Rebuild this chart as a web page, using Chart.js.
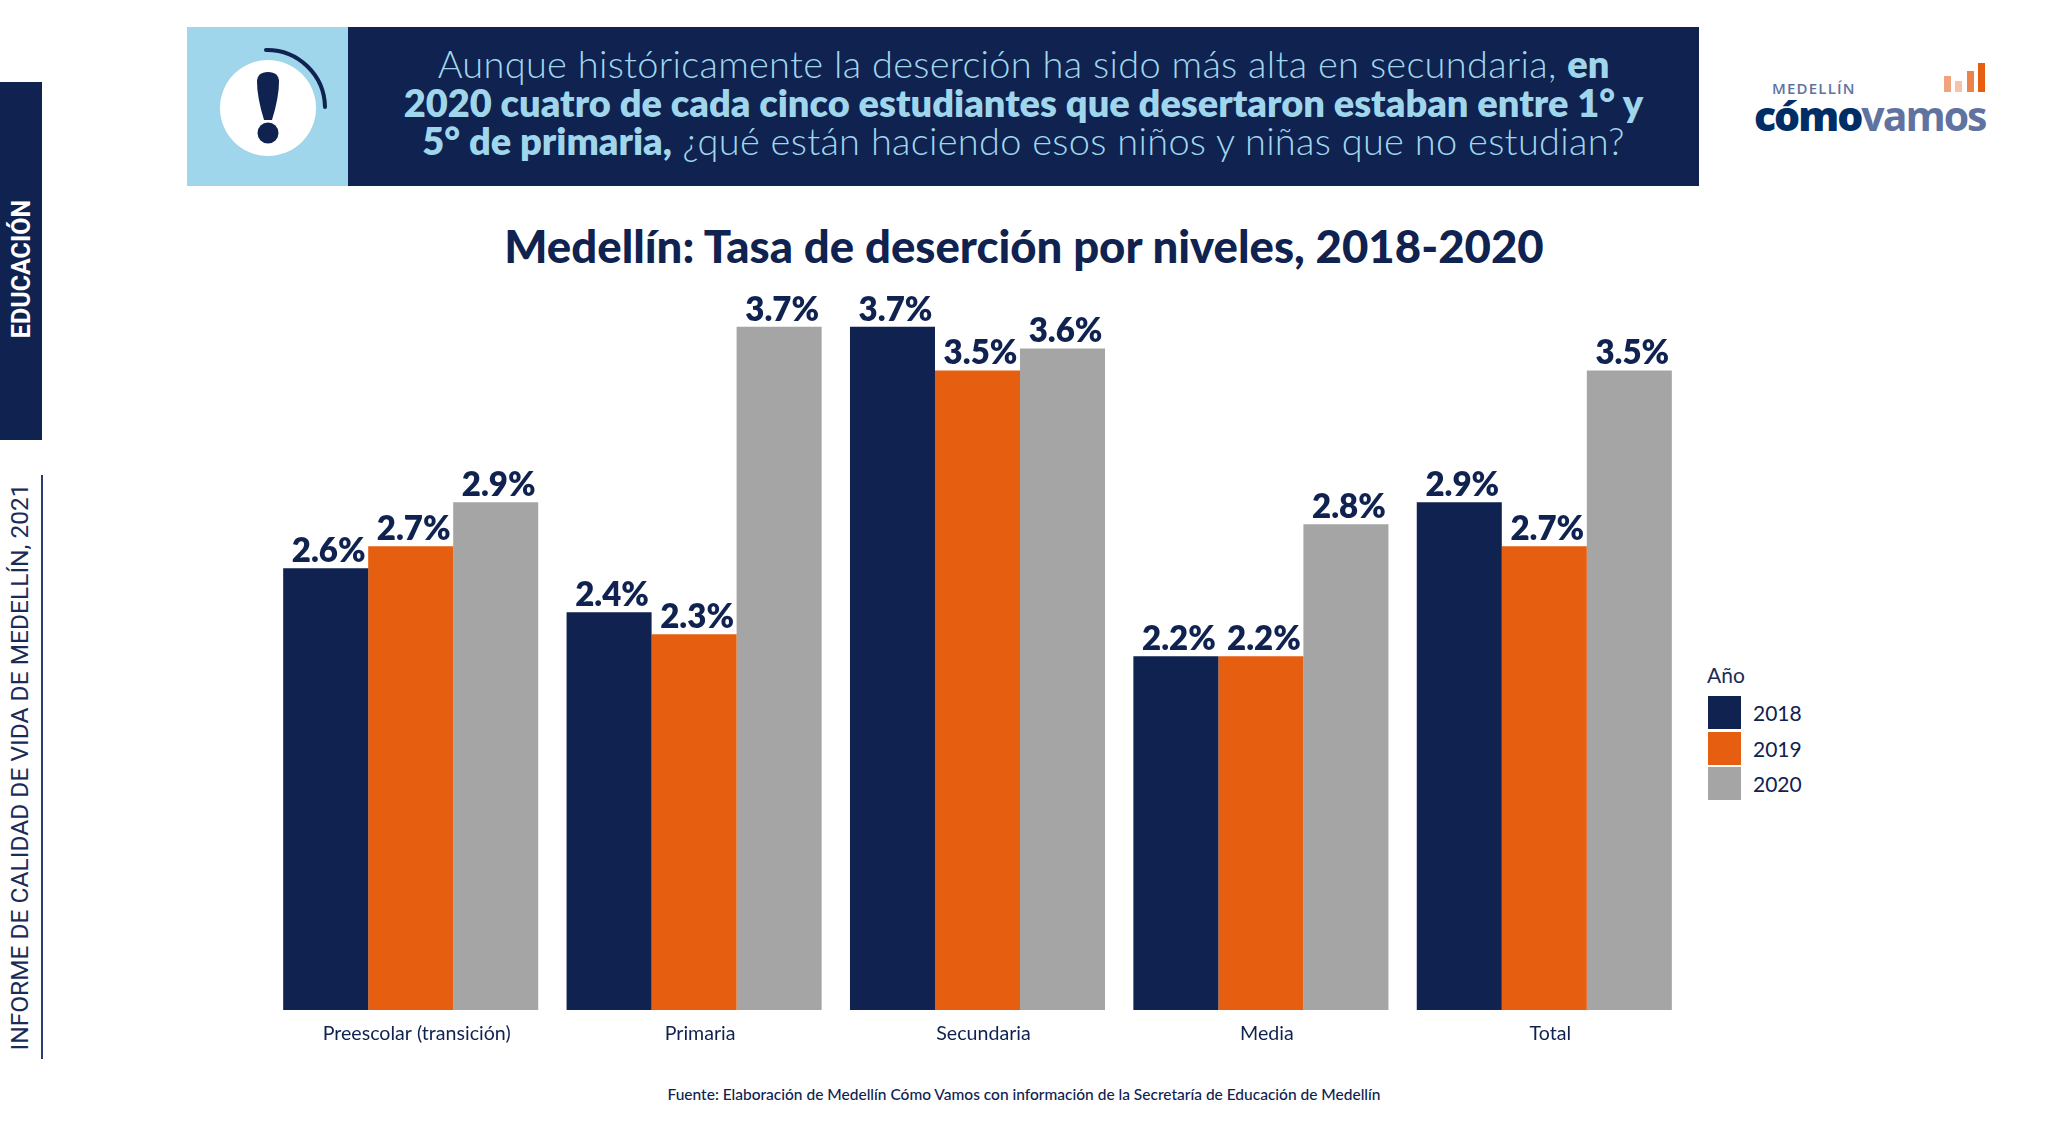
<!DOCTYPE html>
<html lang="es">
<head>
<meta charset="UTF-8">
<title>Medellín: Tasa de deserción por niveles, 2018-2020</title>
<script src="https://cdn.jsdelivr.net/npm/chart.js"></script>
<style>
  html, body { margin: 0; padding: 0; background: #fff; }
  body { width: 2048px; height: 1143px; position: relative; overflow: hidden; font-family: Lato, sans-serif; color: #0f2250; }
  .abs { position: absolute; }
  #chartBox { left: 269px; top: 280px; width: 1417px; height: 780px; }
  #sideBar { left: 0; top: 82px; width: 42px; height: 358px; background: #0f2250; }
  #sideLine { left: 41px; top: 475px; width: 2px; height: 584px; background: #2b3c6e; }
  .rot { transform: rotate(-90deg); transform-origin: center; white-space: nowrap; text-align: center; }
  #sideTitle { left: -78px; top: 254px; width: 200px; height: 30px; line-height: 30px; color: #fff; font-family: Roboto; font-weight: 700; font-size: 25px; }
  #sideReport { left: -280px; top: 752px; width: 600px; height: 30px; line-height: 30px; font-family: Roboto; font-size: 24.5px; color: #1b2b58; }
  #iconBox { left: 187px; top: 27px; width: 161px; height: 159px; background: #a0d6ec; }
  #banner { left: 348px; top: 27px; width: 1351px; height: 159px; background: #0f2250; color: #a0d6ec; font-size: 38px; font-weight: 300; line-height: 38.5px; letter-spacing: 0.28px; text-align: center; box-sizing: border-box; padding-top: 17px; }
  #banner b { font-weight: 800; letter-spacing: 0; }
  #title { left: 0; width: 2048px; top: 218px; text-align: center; font-size: 45.5px; font-weight: 900; line-height: 56px; }
  #legend { left: 1707px; top: 662px; font-size: 21px; }
  #legend .head { height: 26px; line-height: 26px; margin-bottom: 7px; color: #1b2b58; }
  #legend .row { height: 35.4px; display: flex; align-items: center; }
  #legend .swatch { width: 33px; height: 33px; margin-right: 12px; margin-left: 1px; }
  #source { left: 0; width: 2048px; top: 1085px; text-align: center; font-size: 15.5px; line-height: 18px; font-weight: 500; }
  #logoTop { left: 1772px; top: 78px; font-size: 15px; letter-spacing: 1.2px; color: #5f72a0; font-family: "Open Sans"; font-weight: 600; }
  #logoWord { left: 1754px; top: 88px; font-family: "Open Sans"; font-size: 41px; line-height: 54px; font-weight: 800; letter-spacing: -2px; color: #002d66; white-space: nowrap; }
  #logoWord span { color: #5f72a0; font-weight: 700; }
</style>
</head>
<body>
<div class="abs" id="sideBar"></div>
<div class="abs rot" id="sideTitle">EDUCACIÓN</div>
<div class="abs" id="sideLine"></div>
<div class="abs rot" id="sideReport">INFORME DE CALIDAD DE VIDA DE MEDELLÍN, 2021</div>

<div class="abs" id="iconBox">
  <svg width="161" height="159">
    <circle cx="81" cy="81" r="48" fill="#fff"/>
    <path d="M79 23 A58 58 0 0 1 138 80" fill="none" stroke="#0f2250" stroke-width="4" stroke-linecap="round"/>
    <path d="M70 55 Q70 45 81 45 Q92 45 92 55 Q92 70 85 93 L77 93 Q70 70 70 55 Z" fill="#0f2250"/>
    <circle cx="81" cy="106" r="10.5" fill="#0f2250"/>
  </svg>
</div>
<div class="abs" id="banner">Aunque históricamente la deserción ha sido más alta en secundaria, <b>en<br>2020 cuatro de cada cinco estudiantes que desertaron estaban entre 1° y<br>5° de primaria,</b> ¿qué están haciendo esos niños y niñas que no estudian?</div>

<div class="abs" id="logoTop">MEDELLÍN</div>
<div class="abs" id="logoWord">cómo<span>vamos</span></div>
<svg class="abs" style="left:1940px;top:60px" width="50" height="36">
  <rect x="4" y="16" width="7" height="16" fill="#f0a47c"/>
  <rect x="15" y="21" width="7" height="11" fill="#f6c3a6"/>
  <rect x="27" y="11" width="7" height="21" fill="#ea844a"/>
  <rect x="38" y="3" width="7" height="29" fill="#e65f10"/>
</svg>

<div class="abs" id="title">Medellín: Tasa de deserción por niveles, 2018-2020</div>

<div class="abs" id="chartBox"><canvas id="barChart"></canvas></div>
<div class="abs" id="legend"></div>
<div class="abs" id="source">Fuente: Elaboración de Medellín Cómo Vamos con información de la Secretaría de Educación de Medellín</div>

<script>
const categories = ['Preescolar (transición)', 'Primaria', 'Secundaria', 'Media', 'Total'];
const years = ['2018', '2019', '2020'];
const values2018 = [2.6, 2.4, 3.7, 2.2, 2.9];
const values2019 = [2.7, 2.3, 3.5, 2.2, 2.7];
const values2020 = [2.9, 3.7, 3.6, 2.8, 3.5];
const colors = ['#0f2250', '#e65f10', '#a5a5a5'];

// bar labels, drawn just above each bar
const barLabels = {
    id: 'barLabels',
    afterDatasetsDraw(chart) {
        const ctx = chart.ctx;
        ctx.save();
        ctx.font = '800 33px Lato';
        ctx.fillStyle = '#0f2250';
        ctx.textAlign = 'center';
        ctx.textBaseline = 'alphabetic';
        chart.data.datasets.forEach((ds, i) => {
            chart.getDatasetMeta(i).data.forEach((bar, j) => {
                ctx.fillText(ds.data[j].toFixed(1) + '%', bar.x + 3, bar.y - 6);
            });
        });
        ctx.restore();
    }
};

new Chart(document.getElementById('barChart'), {
    type: 'bar',
    data: {
        labels: categories,
        datasets: [
            { label: years[0], data: values2018, backgroundColor: colors[0] },
            { label: years[1], data: values2019, backgroundColor: colors[1] },
            { label: years[2], data: values2020, backgroundColor: colors[2] }
        ]
    },
    options: {
        responsive: true,
        maintainAspectRatio: false,
        animation: false,
        categoryPercentage: 0.9,
        barPercentage: 1,
        layout: { padding: { top: 46.5, left: 0, right: 0, bottom: 0 } },
        plugins: { legend: { display: false }, title: { display: false }, tooltip: { enabled: false } },
        scales: {
            x: {
                grid: { display: false },
                border: { display: false },
                ticks: { color: '#0f2250', font: { family: 'Lato', size: 19.6 }, padding: 4, maxRotation: 0, labelOffset: 6 },
                afterFit(scale) { scale.height = 50; }
            },
            y: { display: false, min: 0.59, max: 3.7 }
        }
    },
    plugins: [barLabels]
});

// legend
const legendBox = document.getElementById('legend');
legendBox.innerHTML = '<div class="head">Año</div>' + years.map((y, i) =>
    '<div class="row"><div class="swatch" style="background:' + colors[i] + '"></div>' + y + '</div>').join('');
</script>
</body>
</html>
